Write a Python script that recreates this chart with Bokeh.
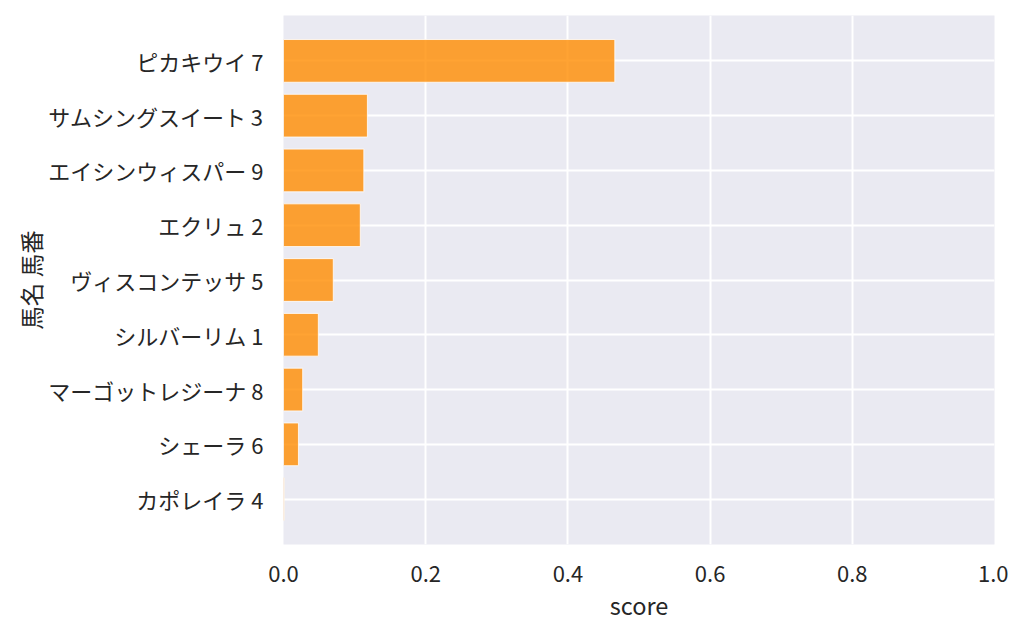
from bokeh.plotting import figure
from bokeh.models import FactorRange, Range1d, FixedTicker, ColumnDataSource, NumeralTickFormatter
from bokeh.embed import file_html
from bokeh.resources import INLINE

horses = ["ピカキウイ 7", "サムシングスイート 3", "エイシンウィスパー 9", "エクリュ 2",
          "ヴィスコンテッサ 5", "シルバーリム 1", "マーゴットレジーナ 8", "シェーラ 6", "カポレイラ 4"]
scores = [0.466, 0.118, 0.113, 0.108, 0.070, 0.049, 0.027, 0.021, 0.001]
x_ticks = [0.0, 0.2, 0.4, 0.6, 0.8, 1.0]

FONT = "Noto Sans CJK JP"
TEXT = "#262626"

yr = FactorRange(factors=list(reversed(horses)), range_padding=0.073, range_padding_units="percent")
p = figure(width=1008, height=626, y_range=yr, x_range=Range1d(0, 1),
           output_backend="svg", toolbar_location=None,
           min_border_left=283, min_border_right=14, min_border_top=15, min_border_bottom=82)

src = ColumnDataSource(dict(name=horses, score=scores))
p.hbar(y="name", right="score", left=0, height=0.78, source=src,
       fill_color="#ff8c00", fill_alpha=0.8, line_color="white", line_alpha=0.8, line_width=1)

p.background_fill_color = "#eaeaf2"
p.border_fill_color = "white"
p.outline_line_color = None

p.xgrid.grid_line_color = "white"
p.xgrid.grid_line_width = 2
p.ygrid.grid_line_color = "white"
p.ygrid.grid_line_width = 2

p.xaxis.ticker = FixedTicker(ticks=x_ticks)
p.xaxis.formatter = NumeralTickFormatter(format="0.0")
p.xaxis.axis_label = "score"
p.yaxis.axis_label = "馬名 馬番"

for ax in (p.xaxis, p.yaxis):
    ax.axis_line_color = None
    ax.major_tick_line_color = None
    ax.minor_tick_line_color = None
    ax.major_tick_out = 0
    ax.major_tick_in = 0
    ax.major_label_text_font = FONT
    ax.major_label_text_font_size = "22px"
    ax.major_label_text_color = TEXT
    ax.axis_label_text_font = FONT
    ax.axis_label_text_font_size = "23.5px"
    ax.axis_label_text_font_style = "normal"
    ax.axis_label_text_color = TEXT

p.xaxis.major_label_standoff = 21
p.xaxis.axis_label_standoff = 3
p.yaxis.major_label_standoff = 20
p.yaxis.axis_label_standoff = -3

open("out.html", "w").write(file_html(p, INLINE))
